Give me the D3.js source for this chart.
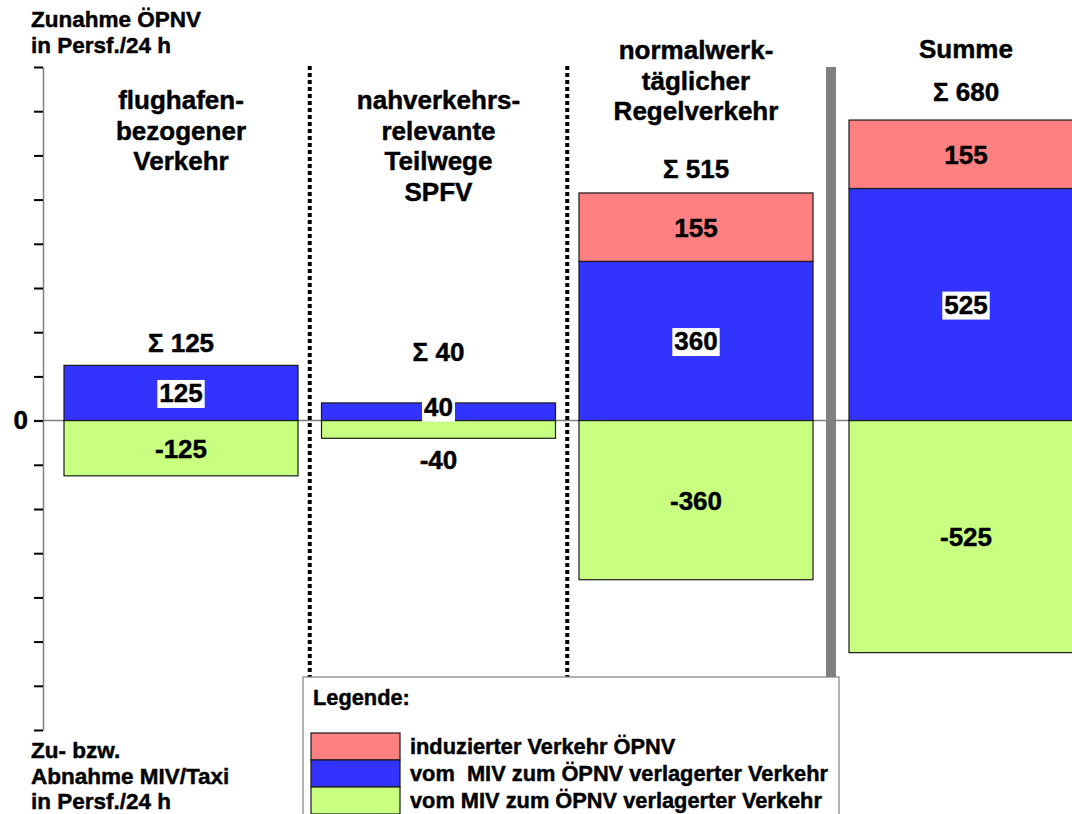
<!DOCTYPE html>
<html>
<head>
<meta charset="utf-8">
<script src="https://cdn.jsdelivr.net/npm/d3@7"></script>
<style>
  body { margin: 0; background: #fff; }
  svg { display: block; font-family: "Liberation Sans", Arial, sans-serif; font-weight: bold; }
  text { white-space: pre; fill: #000; stroke: #000; stroke-width: 0.45px; }
</style>
</head>
<body>
<script>
// columns of the chart
var categories = ["flughafen", "nahverkehr", "regelverkehr", "summe"];
var titleLines = [
  ["flughafen-", "bezogener", "Verkehr"],
  ["nahverkehrs-", "relevante", "Teilwege", "SPFV"],
  ["normalwerk-", "täglicher", "Regelverkehr"],
  ["Summe"]
];

// values per column (Persf./24 h)
var induced = [0, 0, 155, 155];        // induzierter Verkehr ÖPNV
var shifted = [125, 40, 360, 525];     // vom MIV zum ÖPNV verlagert (Zunahme)
var reduced = [-125, -40, -360, -525]; // vom MIV zum ÖPNV verlagert (Abnahme MIV)
var totals = [125, 40, 515, 680];

var yTicks = [-700, -600, -500, -400, -300, -200, -100, 0, 100, 200, 300, 400, 500, 600, 700, 800];

var legendLabels = ["induzierter Verkehr ÖPNV", "vom  MIV zum ÖPNV verlagerter Verkehr", "vom MIV zum ÖPNV verlagerter Verkehr"];
var colors = ["#ff8080", "#3333ff", "#c8ff80"];

var width = 1072,
    height = 814;

// layout bits (not data)
var titleTop = [109, 109, 59, 58];
var lineH = 30.5;
var sumGap = [13, 42, 15, 19];
var lastShift = 12.5;

var svg = d3.select("body").append("svg")
    .attr("width", width)
    .attr("height", height);

var y = d3.scaleLinear().domain([-700, 800]).range([730, 67]);

var x = d3.scaleBand()
    .domain(categories)
    .range([64, 64 + 4 * 257.5 - 23.5])
    .paddingInner(0.0913);

function colX(c, i) { return x(c) + (i === 3 ? lastShift : 0); }
function colMid(c, i) { return colX(c, i) + x.bandwidth() / 2; }

// zero line
svg.append("line")
    .attr("x1", 34).attr("x2", width)
    .attr("y1", y(0)).attr("y2", y(0))
    .attr("stroke", "#808080").attr("stroke-width", 1.5);

// axis
var axis = svg.append("g")
    .attr("transform", "translate(43,0)")
    .call(d3.axisLeft(y)
      .tickValues(yTicks)
      .tickSize(9)
      .tickSizeOuter(0)
      .tickPadding(6)
      .tickFormat(function(d) { return d === 0 ? "0" : ""; }));
axis.select(".domain").attr("stroke", "#808080").attr("stroke-width", 1.5);
axis.selectAll(".tick line").attr("stroke", "#000").attr("stroke-width", 2);
axis.selectAll(".tick text")
    .attr("font-family", "Liberation Sans, Arial, sans-serif")
    .attr("font-weight", "bold")
    .attr("font-size", 26)
    .attr("fill", "#000");

// separators
[0, 1].forEach(function(i) {
  var sx = (x(categories[i]) + x.bandwidth() + x(categories[i + 1])) / 2;
  svg.append("line")
      .attr("x1", sx).attr("x2", sx)
      .attr("y1", 66).attr("y2", 677)
      .attr("stroke", "#000").attr("stroke-width", 4)
      .attr("stroke-dasharray", "4,3");
});
var gx = (x(categories[2]) + x.bandwidth() + colX(categories[3], 3)) / 2;
svg.append("rect")
    .attr("x", gx - 5).attr("y", 67)
    .attr("width", 10).attr("height", 677 - 67)
    .attr("fill", "#808080");

// stacked segments
var segments = [];
categories.forEach(function(c, i) {
  if (induced[i] > 0) segments.push({c: c, i: i, y0: shifted[i], y1: shifted[i] + induced[i], v: induced[i], k: 0});
  segments.push({c: c, i: i, y0: 0, y1: shifted[i], v: shifted[i], k: 1});
  segments.push({c: c, i: i, y0: reduced[i], y1: 0, v: reduced[i], k: 2});
});

svg.selectAll("rect.seg")
    .data(segments)
  .enter().append("rect")
    .attr("class", "seg")
    .attr("x", function(d) { return colX(d.c, d.i); })
    .attr("y", function(d) { return y(d.y1); })
    .attr("width", x.bandwidth())
    .attr("height", function(d) { return y(d.y0) - y(d.y1); })
    .attr("fill", function(d) { return colors[d.k]; })
    .attr("stroke", "#1a1a1a")
    .attr("stroke-width", 1.2);

// segment labels
segments.forEach(function(d) {
  var top = y(d.y1), bot = y(d.y0);
  var h = bot - top;
  var cy = (top + bot) / 2;
  var cx = colMid(d.c, d.i);
  if (h < 30) {
    if (d.k === 2) cy = bot + 21;
    else cy = cy - 5;
  }
  var g = svg.append("g");
  var t = g.append("text")
      .attr("x", cx).attr("y", cy)
      .attr("dy", "0.36em")
      .attr("text-anchor", "middle")
      .attr("font-size", 26)
      .text(d.v);
  if (d.k === 1) {
    var bb = t.node().getBBox();
    g.insert("rect", "text")
        .attr("x", bb.x - 2).attr("y", cy - 13)
        .attr("width", bb.width + 4).attr("height", 28)
        .attr("fill", "#fff");
  }
});

// sums
svg.selectAll("text.sum")
    .data(categories)
  .enter().append("text")
    .attr("class", "sum")
    .attr("x", function(c, i) { return colMid(c, i); })
    .attr("y", function(c, i) { return y(totals[i]) - sumGap[i]; })
    .attr("text-anchor", "middle")
    .attr("font-size", 26)
    .text(function(c, i) { return "Σ " + totals[i]; });

// column titles
categories.forEach(function(c, i) {
  titleLines[i].forEach(function(line, j) {
    svg.append("text")
        .attr("x", colMid(c, i))
        .attr("y", titleTop[i] + j * lineH)
        .attr("text-anchor", "middle")
        .attr("font-size", 26)
        .text(line);
  });
});

// axis titles
["Zunahme ÖPNV", "in Persf./24 h"].forEach(function(s, j) {
  svg.append("text").attr("x", 31).attr("y", 27 + j * 25.5).attr("font-size", 22.5).text(s);
});
["Zu- bzw.", "Abnahme MIV/Taxi", "in Persf./24 h"].forEach(function(s, j) {
  svg.append("text").attr("x", 31).attr("y", 758 + j * 25.5).attr("font-size", 22.5).text(s);
});

// legend
var lg = svg.append("g");
lg.append("rect")
    .attr("x", 303).attr("y", 677)
    .attr("width", 536).attr("height", 160)
    .attr("fill", "#fff").attr("stroke", "#808080").attr("stroke-width", 1.2);
lg.append("text").attr("x", 313).attr("y", 705).attr("font-size", 21.8).text("Legende:");
legendLabels.forEach(function(s, k) {
  lg.append("rect")
      .attr("x", 311).attr("y", 733 + k * 27)
      .attr("width", 89).attr("height", 27)
      .attr("fill", colors[k]).attr("stroke", "#1a1a1a").attr("stroke-width", 1.2);
  lg.append("text")
      .attr("x", 410).attr("y", 733 + k * 27 + 13.5)
      .attr("dy", "0.35em")
      .attr("font-size", 21.8)
      .text(s);
});
</script>
</body>
</html>
